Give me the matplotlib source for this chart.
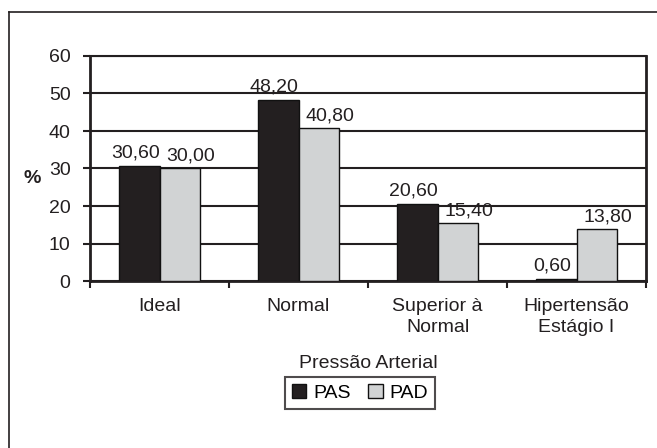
import matplotlib
matplotlib.use("Agg")
import matplotlib.pyplot as plt
import numpy as np
from matplotlib.lines import Line2D
from matplotlib.patches import Patch

plt.rcParams['font.family'] = ['Liberation Sans', 'DejaVu Sans']

categories = ["Ideal", "Normal", "Superior à\nNormal", "Hipertensão\nEstágio I"]
pas = [30.60, 48.20, 20.60, 0.60]
pad = [30.00, 40.80, 15.40, 13.80]
yticks = [0, 10, 20, 30, 40, 50, 60]

FS = 14
INK = "#231f20"
W, H = 657, 448
fig = plt.figure(figsize=(W / 100, H / 100), dpi=100)
ax = fig.add_axes([90 / W, 1 - 281 / H, (646 - 90) / W, (281 - 56) / H])

x = np.arange(len(categories))
bw = 0.29
b1 = ax.bar(x - bw / 2, pas, bw, color=INK, edgecolor="#111111", linewidth=1.0, zorder=3, label="PAS")
b2 = ax.bar(x + bw / 2, pad, bw, color="#d1d3d4", edgecolor="#111111", linewidth=1.0, zorder=3, label="PAD")

def fmt(v):
    return f"{v:.2f}".replace(".", ",")

for rect, v in zip(b1, pas):
    ax.text(rect.get_x() + rect.get_width() / 2 - 0.03, v + 1.2, fmt(v), ha="center", va="bottom", fontsize=FS, color=INK)
for rect, v in zip(b2, pad):
    ax.text(rect.get_x() + rect.get_width() / 2 + 0.08, v + 1.0, fmt(v), ha="center", va="bottom", fontsize=FS, color=INK)

ax.set_xlim(-0.5, len(categories) - 0.5)
ax.set_ylim(0, 60)
ax.set_yticks(yticks)
ax.set_yticklabels([str(t) for t in yticks], fontsize=FS, color=INK)
ax.yaxis.grid(True, color=INK, linewidth=1.5, zorder=0)
ax.set_axisbelow(True)

ax.set_xticks(x)
ax.set_xticklabels(categories, fontsize=FS, color=INK, linespacing=1.3)
ax.tick_params(axis="x", which="major", length=0, pad=12)
ax.set_xticks(np.arange(len(categories) + 1) - 0.5, minor=True)
ax.tick_params(axis="x", which="minor", length=5, width=1.5, color=INK, direction="out")
ax.tick_params(axis="y", length=5, width=1.5, color=INK, direction="out", pad=9)

for side in ["left", "bottom", "right", "top"]:
    ax.spines[side].set_color(INK)
    ax.spines[side].set_linewidth(2.0)
ax.spines["top"].set_linewidth(1.5)

ax.set_xlabel("Pressão Arterial", fontsize=FS, color=INK, labelpad=14)

fig.text(32 / W, 1 - 178 / H, "%", fontsize=14, fontweight="bold", ha="center", va="center", color=INK)

leg = fig.legend(handles=[Patch(facecolor=INK, edgecolor="#111111", label="PAS"),
                          Patch(facecolor="#d1d3d4", edgecolor="#111111", label="PAD")],
                 loc="center", bbox_to_anchor=(360 / W, 1 - 393 / H), ncol=2, fontsize=FS,
                 frameon=True, fancybox=False, handlelength=0.75, handleheight=0.75,
                 handletextpad=0.35, columnspacing=0.9, borderpad=0.35)
leg.get_frame().set_edgecolor(INK)
leg.get_frame().set_linewidth(1.5)

fig.add_artist(Line2D([9 / W, 9 / W], [0, 1 - 12 / H], transform=fig.transFigure, color=INK, linewidth=1.2))
fig.add_artist(Line2D([9 / W, 1], [1 - 12 / H, 1 - 12 / H], transform=fig.transFigure, color=INK, linewidth=1.2))

fig.savefig("out.png", dpi=100)
